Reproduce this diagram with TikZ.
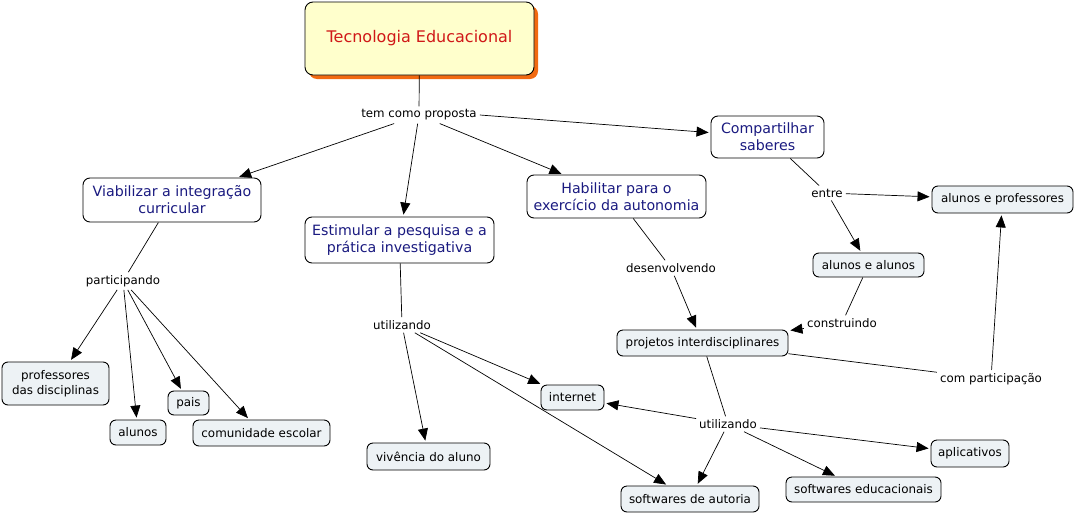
\documentclass[tikz,border=0pt]{standalone}
\usepackage{fontspec}
\setmainfont{DejaVu Sans}
\usetikzlibrary{arrows.meta,shadows}
\definecolor{navy}{HTML}{1A1A80}
\definecolor{titlered}{HTML}{D01818}
\definecolor{titlefill}{HTML}{FFFFCC}
\definecolor{leaffill}{HTML}{EDF2F5}
\definecolor{shadoworange}{HTML}{F26A10}
\begin{document}
\begin{tikzpicture}[x=1pt,y=-1pt,
  concept/.style={draw=black,line width=0.9pt,rounded corners=7pt,fill=white,text=navy,
     font=\fontsize{14.2}{17}\selectfont,align=center,inner sep=0pt},
  leaf/.style={draw=black,line width=0.9pt,rounded corners=6pt,fill=leaffill,text=black,
     font=\fontsize{11.9}{15}\selectfont,align=center,inner sep=0pt},
  lbl/.style={font=\fontsize{11.8}{14}\selectfont,inner sep=3pt,text=black},
  link/.style={line width=0.7pt,black},
  arr/.style={link,-{Triangle[length=12pt,width=10pt]},shorten >=2pt}
]
\useasboundingbox[fill=white] (0,0) rectangle (1075,514);

% title
\node[draw=black,line width=0.9pt,rounded corners=8pt,fill=titlefill,text=titlered,
  font=\fontsize{16}{19}\selectfont,minimum width=229pt,minimum height=73pt,
  drop shadow={shadow xshift=4pt,shadow yshift=-4pt,fill=shadoworange,opacity=1}]
  (title) at (419.5,38.5) {Tecnologia Educacional};

% concepts
\node[concept,minimum width=178pt,minimum height=44pt] (viab) at (172,200) {Viabilizar a integração\\curricular};
\node[concept,minimum width=189pt,minimum height=46pt] (estim) at (399.5,240) {Estimular a pesquisa e a\\prática investigativa};
\node[concept,minimum width=179pt,minimum height=43pt] (habil) at (616.5,196.5) {Habilitar para o\\exercício da autonomia};
\node[concept,minimum width=113pt,minimum height=42pt] (comp) at (767.5,137) {Compartilhar\\saberes};

% leaves
\node[leaf,minimum width=107pt,minimum height=43pt] (prof) at (55.5,383.5) {professores\\das disciplinas};
\node[leaf,minimum width=56pt,minimum height=25pt] (alunos) at (138,432.5) {alunos};
\node[leaf,minimum width=41pt,minimum height=24pt] (pais) at (188.5,403) {pais};
\node[leaf,minimum width=137pt,minimum height=26pt] (comun) at (261.5,433) {comunidade escolar};
\node[leaf,minimum width=123pt,minimum height=27pt] (viven) at (428.5,456.5) {vivência do aluno};
\node[leaf,minimum width=63pt,minimum height=25pt] (inter) at (572.5,397.5) {internet};
\node[leaf,minimum width=138pt,minimum height=26pt] (softa) at (690,499) {softwares de autoria};
\node[leaf,minimum width=171pt,minimum height=26pt] (proj) at (702.5,343) {projetos interdisciplinares};
\node[leaf,minimum width=78pt,minimum height=27pt] (aplic) at (970,453.5) {aplicativos};
\node[leaf,minimum width=155pt,minimum height=25pt] (softe) at (863.5,489.5) {softwares educacionais};
\node[leaf,minimum width=141pt,minimum height=27pt] (aprof) at (1002.5,199.5) {alunos e professores};
\node[leaf,minimum width=111pt,minimum height=24pt] (aalun) at (868.5,265) {alunos e alunos};

% link labels
\node[lbl] (tcp) at (419,115) {tem como proposta};
\node[lbl] (part) at (123,281) {participando};
\node[lbl] (util1) at (402,325) {utilizando};
\node[lbl] (desen) at (671,268) {desenvolvendo};
\node[lbl] (util2) at (728,424) {utilizando};
\node[lbl] (entre) at (827,193) {entre};
\node[lbl] (constr) at (842,323) {construindo};
\node[lbl] (compart) at (991,379) {com participação};

% connectors
\draw[link] (title) -- (tcp);
\draw[arr] (tcp) -- (viab);
\draw[arr] (tcp) -- (estim);
\draw[arr] (tcp) -- (habil);
\draw[arr] (tcp.east) -- (comp);

\draw[link] (viab) -- (part);
\draw[arr] (part) -- (prof);
\draw[arr] (part) -- (alunos);
\draw[arr] (part) -- (pais);
\draw[arr] (part) -- (comun);

\draw[link] (estim) -- (util1);
\draw[arr] (util1) -- (viven);
\draw[arr] (util1) -- (inter);
\draw[arr] (util1) -- (softa);

\draw[link] (habil) -- (desen);
\draw[arr] (desen) -- (proj);

\draw[link] (comp) -- (entre);
\draw[arr] (entre) -- (aprof);
\draw[arr] (entre) -- (aalun);

\draw[link] (aalun) -- (constr);
\draw[arr] (constr) -- (proj);

\draw[link] (proj) -- (compart);
\draw[arr] (compart) -- (aprof);

\draw[link] (proj) -- (util2);
\draw[arr] (util2) -- (inter);
\draw[arr] (util2) -- (softa);
\draw[arr] (util2) -- (softe);
\draw[arr] (util2) -- (aplic);
\end{tikzpicture}
\end{document}
